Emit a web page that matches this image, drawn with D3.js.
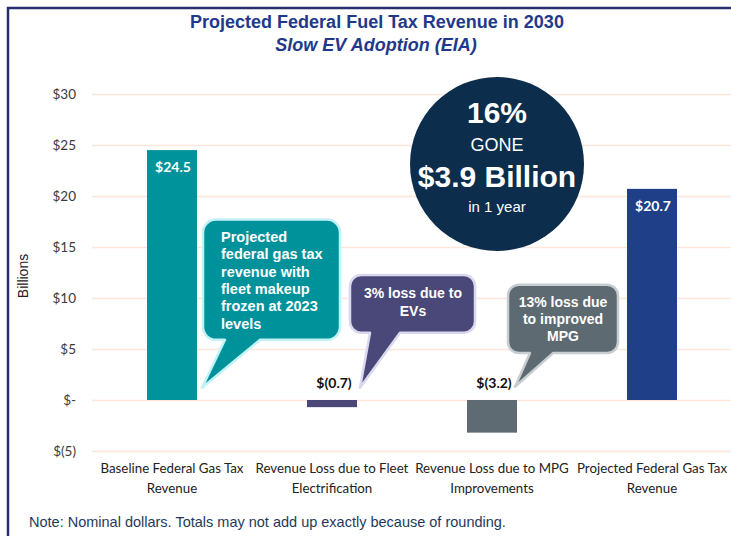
<!DOCTYPE html>
<html>
<head>
<meta charset="utf-8">
<script src="https://cdn.jsdelivr.net/npm/d3@7"></script>
<style>
  body { margin: 0; background: #fff; }
  svg { display: block; }
</style>
</head>
<body>
<div id="chartHolder"></div>
<script>
// chart data
const categories = ["Baseline", "Fleet", "MPG", "Projected"];
const categoryLines = [
  ["Baseline Federal Gas Tax", "Revenue"],
  ["Revenue Loss due to Fleet", "Electrification"],
  ["Revenue Loss due to MPG", "Improvements"],
  ["Projected Federal Gas Tax", "Revenue"]
];
const values = [24.5, -0.7, -3.2, 20.7];
const valueLabels = ["$24.5", "$(0.7)", "$(3.2)", "$20.7"];
const barColors = ["#00939c", "#4b4879", "#5f6b73", "#1f4088"];
const yTicks = [-5, 0, 5, 10, 15, 20, 25, 30];
const yTickLabels = ["$(5)", "$-", "$5", "$10", "$15", "$20", "$25", "$30"];

const circleLines = ["16%", "GONE", "$3.9 Billion", "in 1 year"];
const calloutTexts = [
  ["Projected", "federal gas tax", "revenue with", "fleet makeup", "frozen at 2023", "levels"],
  ["3% loss due to", "EVs"],
  ["13% loss due", "to improved", "MPG"]
];

const w = 731;
const h = 536;

const svg = d3.select("#chartHolder").append("svg")
  .attr("width", w)
  .attr("height", h);

const xScale = d3.scaleBand()
  .domain(categories)
  .range([92, 732])
  .paddingInner(0.6875)
  .paddingOuter(0.34375);

const yScale = d3.scaleLinear()
  .domain([-5, 30])
  .range([451, 94]);

// frame (left + top only are visible)
svg.append("path")
  .attr("d", "M8," + h + " V8 H" + w)
  .attr("fill", "none")
  .attr("stroke", "#262f6c")
  .attr("stroke-width", 2.5);

// titles
svg.append("text")
  .attr("x", 377).attr("y", 28)
  .attr("text-anchor", "middle")
  .style("font", "bold 18px 'Liberation Sans', Arial, sans-serif")
  .attr("fill", "#22398a")
  .text("Projected Federal Fuel Tax Revenue in 2030");
svg.append("text")
  .attr("x", 376).attr("y", 51)
  .attr("text-anchor", "middle")
  .style("font", "italic bold 18px 'Liberation Sans', Arial, sans-serif")
  .attr("fill", "#22398a")
  .text("Slow EV Adoption (EIA)");

// y axis: gridlines + labels, no domain
const yAxis = d3.axisLeft(yScale)
  .tickValues(yTicks)
  .tickFormat((d, i) => yTickLabels[i])
  .tickSize(0)
  .tickPadding(16);
const yAxisG = svg.append("g")
  .attr("transform", "translate(92,0)")
  .call(yAxis);
yAxisG.select(".domain").remove();
yAxisG.selectAll("text")
  .style("font", "13.5px Lato, 'Open Sans', sans-serif")
  .attr("fill", "#3a3a3a");
yAxisG.selectAll(".tick").append("line")
  .attr("x1", 0).attr("x2", w - 92)
  .attr("stroke", "#fce7da")
  .attr("stroke-width", 1.6);

svg.append("text")
  .attr("transform", "translate(28,276)rotate(-90)")
  .attr("text-anchor", "middle")
  .style("font", "14px 'Liberation Sans', Arial, sans-serif")
  .attr("fill", "#222")
  .text("Billions");

// x axis labels
const xAxisG = svg.append("g")
  .attr("transform", "translate(0,451)");
categories.forEach((c, i) => {
  const t = xAxisG.append("text")
    .attr("x", xScale(c) + xScale.bandwidth() / 2)
    .attr("y", 22)
    .attr("text-anchor", "middle")
    .style("font", "13.3px Lato, 'Open Sans', sans-serif")
    .attr("fill", "#222");
  categoryLines[i].forEach((line, k) => {
    t.append("tspan")
      .attr("x", xScale(c) + xScale.bandwidth() / 2)
      .attr("dy", k === 0 ? 0 : 20)
      .text(line);
  });
});

// bars
svg.selectAll(".bar")
  .data(values)
  .enter()
  .append("rect")
  .attr("class", "bar")
  .attr("x", (d, i) => xScale(categories[i]))
  .attr("width", xScale.bandwidth())
  .attr("y", (d) => yScale(Math.max(0, d)))
  .attr("height", (d) => Math.abs(yScale(d) - yScale(0)))
  .attr("fill", (d, i) => barColors[i]);

// value labels
svg.selectAll(".valLabel")
  .data(values)
  .enter()
  .append("text")
  .attr("class", "valLabel")
  .attr("x", (d, i) => xScale(categories[i]) + xScale.bandwidth() / 2 + (d < 0 ? 2 : 1))
  .attr("y", (d) => d > 0 ? yScale(d) + 22 : yScale(0) - 12)
  .attr("text-anchor", "middle")
  .style("font", "bold 14px Lato, 'Open Sans', sans-serif")
  .attr("fill", (d) => d > 0 ? "#fff" : "#111")
  .text((d, i) => valueLabels[i]);

// callouts: box in band offsets (x) and value units (y), tail to just right of the bar
const callouts = [
  { cat: 0, x0: 56, x1: 193, v0: 17.7, v1: 5.9, b0: 78, b1: 113, tx: 55, tv: 1.2, r: 13,
    fill: "#00929b", stroke: "#c3f2f6", align: "start", tdx: 74, ty0: 242, lh: 17.3, fs: 14.5 },
  { cat: 1, x0: 43, x1: 168, v0: 12.25, v1: 6.6, b0: 63, b1: 93, tx: 53, tv: 1.2, r: 11,
    fill: "#4a4878", stroke: "#dad8ee", align: "middle", tdx: 106, ty0: 298, lh: 18, fs: 14 },
  { cat: 2, x0: 41, x1: 151, v0: 11.3, v1: 4.6, b0: 63, b1: 86, tx: 48, tv: 1.3, r: 11,
    fill: "#5e6a72", stroke: "#c8cdd1", align: "middle", tdx: 96, ty0: 307, lh: 17, fs: 14 }
];

function calloutPath(c) {
  const bx = xScale(categories[c.cat]);
  const x0 = bx + c.x0, x1 = bx + c.x1;
  const y0 = yScale(c.v0), y1 = yScale(c.v1);
  const r = c.r;
  return "M" + (x0 + r) + "," + y0 +
    " H" + (x1 - r) + " A" + r + "," + r + " 0 0 1 " + x1 + "," + (y0 + r) +
    " V" + (y1 - r) + " A" + r + "," + r + " 0 0 1 " + (x1 - r) + "," + y1 +
    " H" + (bx + c.b1) + " L" + (bx + c.tx) + "," + yScale(c.tv) +
    " L" + (bx + c.b0) + "," + y1 +
    " H" + (x0 + r) + " A" + r + "," + r + " 0 0 1 " + x0 + "," + (y1 - r) +
    " V" + (y0 + r) + " A" + r + "," + r + " 0 0 1 " + (x0 + r) + "," + y0 + " Z";
}

callouts.forEach((c, i) => {
  svg.append("path")
    .attr("d", calloutPath(c))
    .attr("fill", c.fill)
    .attr("stroke", c.stroke)
    .attr("stroke-width", 2.5)
    .attr("stroke-linejoin", "round");
  const bx = xScale(categories[c.cat]);
  const t = svg.append("text")
    .attr("text-anchor", c.align)
    .style("font", "bold " + c.fs + "px 'Liberation Sans', Arial, sans-serif")
    .attr("fill", "#fff");
  calloutTexts[i].forEach((line, k) => {
    t.append("tspan")
      .attr("x", bx + c.tdx)
      .attr("y", c.ty0 + k * c.lh)
      .text(line);
  });
});

// the "gone" circle
const cx = 497, cy = 164;
svg.append("circle")
  .attr("cx", cx).attr("cy", cy).attr("r", 87)
  .attr("fill", "#0c2d4c");
const circleStyles = [
  { y: 123, f: "bold 30px" },
  { y: 151, f: "18px" },
  { y: 187, f: "bold 30px" },
  { y: 212, f: "15px" }
];
circleLines.forEach((line, i) => {
  svg.append("text")
    .attr("x", cx).attr("y", circleStyles[i].y)
    .attr("text-anchor", "middle")
    .style("font", circleStyles[i].f + " 'Liberation Sans', Arial, sans-serif")
    .attr("fill", "#fff")
    .text(line);
});

// footnote
svg.append("text")
  .attr("x", 29).attr("y", 527)
  .style("font", "14.5px 'Liberation Sans', Arial, sans-serif")
  .attr("fill", "#1f3a5c")
  .text("Note: Nominal dollars. Totals may not add up exactly because of rounding.");
</script>
</body>
</html>
